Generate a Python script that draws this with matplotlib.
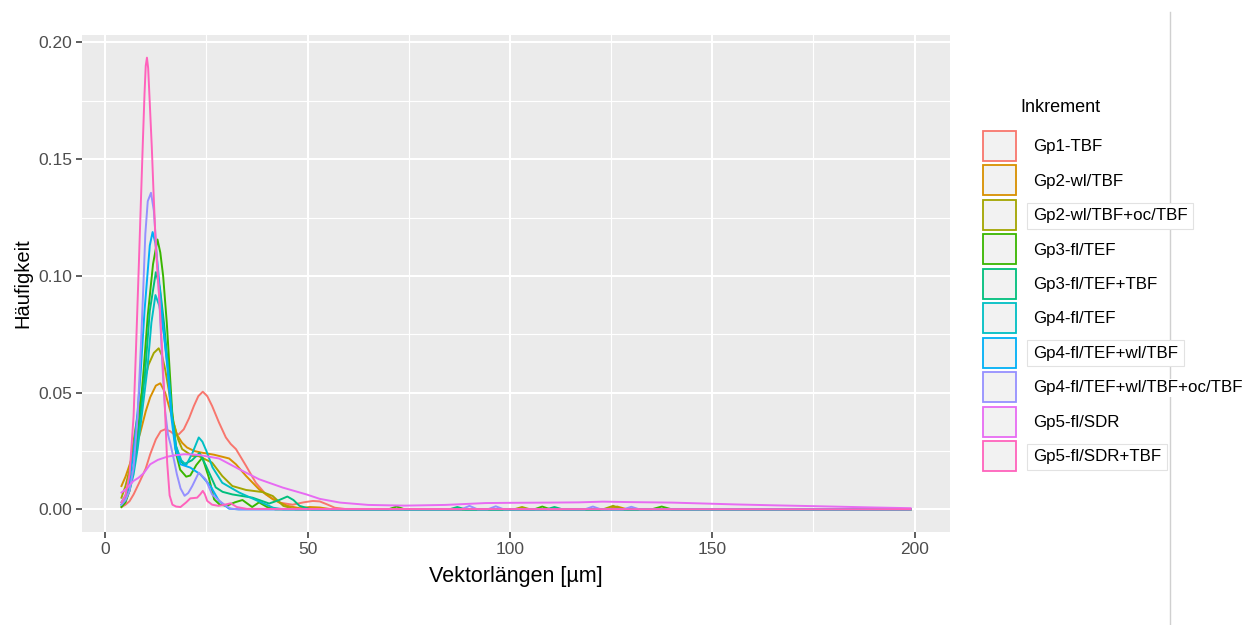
import matplotlib
matplotlib.use("Agg")
import matplotlib.pyplot as plt
from matplotlib.patches import Patch
from matplotlib.lines import Line2D
from matplotlib.ticker import FixedLocator, FormatStrFormatter

plt.rcParams["font.family"] = ["Liberation Sans", "DejaVu Sans"]

labels = [
    "Gp1-TBF", "Gp2-wl/TBF", "Gp2-wl/TBF+oc/TBF", "Gp3-fl/TEF", "Gp3-fl/TEF+TBF",
    "Gp4-fl/TEF", "Gp4-fl/TEF+wl/TBF", "Gp4-fl/TEF+wl/TBF+oc/TBF", "Gp5-fl/SDR",
    "Gp5-fl/SDR+TBF",
]
colors = ["#F8766D", "#D89000", "#A3A500", "#39B600", "#00BF7D",
          "#00BFC4", "#00B0F6", "#9590FF", "#E76BF3", "#FF62BC"]

# density curves (x in µm, y = density)
x_gp1 = [4, 5, 6, 7, 8.6, 10, 11.1, 12.5, 13.7, 14.8, 16, 17.3, 18.2, 19.4, 20.7,
         21.9, 23, 24.1, 25.2, 26.4, 28.1, 29.8, 31, 32.3, 34.8, 37.2, 39.7, 43,
         46.3, 49, 51.3, 53, 55, 56.7, 60, 199]
y_gp1 = [0.001, 0.002, 0.0035, 0.0064, 0.0122, 0.0175, 0.0236, 0.030, 0.0335, 0.0343,
         0.0335, 0.0318, 0.0322, 0.0343, 0.039, 0.0443, 0.0485, 0.0504, 0.0485, 0.0443,
         0.0372, 0.0308, 0.028, 0.0258, 0.0186, 0.0114, 0.0064, 0.0029, 0.002, 0.003,
         0.0036, 0.0034, 0.002, 0.0007, 0, 0]

x_gp2 = [4, 5, 6.5, 8.6, 10, 11.1, 12.5, 13.6, 14.8, 16.1, 17.7, 19, 20.2, 22, 23.5,
         26.9, 30.6, 32.3, 34.8, 38, 41.4, 45, 48, 50.5, 53, 56, 124, 126.5, 129, 199]
y_gp2 = [0.010, 0.014, 0.0215, 0.0325, 0.042, 0.048, 0.053, 0.054, 0.050, 0.042,
         0.032, 0.0285, 0.0265, 0.025, 0.0244, 0.0234, 0.0218, 0.0193, 0.0143, 0.0086,
         0.0043, 0.0015, 0.0005, 0.001, 0.0008, 0, 0, 0.0012, 0, 0]

x_gp2oc = [4, 5, 6, 7.4, 8.5, 9.5, 10.7, 12, 13.2, 14, 14.8, 15.8, 16.9, 18, 19,
           21.5, 23.1, 26.4, 28.9, 31.4, 34.8, 38.9, 41.4, 44, 47, 101, 103, 105,
           123, 125.5, 128, 199]
y_gp2oc = [0.005, 0.010, 0.017, 0.034, 0.045, 0.054, 0.062, 0.067, 0.069, 0.066,
           0.060, 0.050, 0.037, 0.030, 0.0258, 0.0229, 0.0228, 0.020, 0.0143, 0.010,
           0.0083, 0.0074, 0.0057, 0.0015, 0, 0, 0.001, 0, 0, 0.0015, 0, 0]

x_gp3 = [4, 5, 6, 7, 8, 9.0, 9.5, 10.5, 11.8, 12.9, 13.6, 14.3, 15.2, 15.9, 16.6,
         17.5, 18.5, 20, 21, 22.5, 24, 25.6, 26.9, 28.3, 30, 32, 33.9, 36.3, 38, 40,
         42, 70, 72, 74, 106, 108, 110, 135, 137.5, 140, 199]
y_gp3 = [0.001, 0.003, 0.008, 0.018, 0.032, 0.050, 0.060, 0.083, 0.105, 0.1156,
         0.110, 0.100, 0.080, 0.060, 0.040, 0.024, 0.017, 0.014, 0.0145, 0.019,
         0.0222, 0.0136, 0.0043, 0.002, 0.0015, 0.003, 0.004, 0.001, 0.003, 0.001,
         0, 0, 0.0012, 0, 0, 0.0012, 0, 0, 0.0012, 0, 0]

x_gp3tbf = [4, 5, 6, 7, 8, 9, 9.9, 11, 12.5, 13.5, 14.5, 15.6, 16.5, 17.5, 18.5,
            19.4, 21.4, 23.3, 24.8, 27.3, 29, 31.4, 36.4, 40.5, 43, 45, 46.5, 48,
            51, 85, 87, 89, 109, 111, 113, 199]
y_gp3tbf = [0.002, 0.004, 0.009, 0.018, 0.030, 0.045, 0.060, 0.085, 0.1016, 0.095,
            0.080, 0.060, 0.040, 0.027, 0.021, 0.0193, 0.021, 0.0242, 0.019, 0.0094,
            0.0075, 0.0064, 0.005, 0.0025, 0.004, 0.0055, 0.004, 0.0015, 0, 0,
            0.001, 0, 0, 0.001, 0, 0]

x_gp4 = [4, 5, 6, 7, 8, 9, 10.4, 11.4, 12.4, 13.4, 14.5, 15.5, 16.5, 17.5, 18.8,
         20, 21.5, 23.1, 24, 25, 26.5, 28.9, 33.1, 37.2, 41.5, 44, 199]
y_gp4 = [0.002, 0.004, 0.008, 0.015, 0.026, 0.040, 0.060, 0.080, 0.0918, 0.087,
         0.075, 0.060, 0.040, 0.027, 0.021, 0.019, 0.024, 0.0308, 0.029, 0.025,
         0.018, 0.0114, 0.0072, 0.004, 0.0007, 0, 0]

x_gp4wl = [4, 5, 6, 7, 8, 8.8, 9.7, 10.4, 11.0, 11.7, 12.4, 13.2, 14.2, 15.4, 16.3,
           17.3, 18.6, 21.0, 23.5, 26.0, 28.1, 30.6, 33, 199]
y_gp4wl = [0.003, 0.006, 0.012, 0.025, 0.042, 0.060, 0.085, 0.100, 0.113, 0.1188,
           0.114, 0.100, 0.080, 0.060, 0.040, 0.026, 0.0193, 0.0179, 0.015, 0.010,
           0.0036, 0.0003, 0, 0]

x_gp4oc = [4, 5, 6, 7, 8.0, 8.8, 9.4, 9.9, 10.5, 11.3, 12.0, 12.7, 13.4, 14.1, 14.8,
           15.5, 16.1, 17.0, 17.7, 18.6, 19.6, 20.5, 21.5, 23.1, 24.8, 26.4, 27.3,
           29.4, 31, 33, 88, 90, 92, 94.5, 96.5, 98.5, 118.5, 120.5, 122.5, 128, 130,
           132, 199]
y_gp4oc = [0.002, 0.004, 0.008, 0.018, 0.040, 0.070, 0.095, 0.118, 0.132, 0.1356,
           0.128, 0.110, 0.088, 0.062, 0.042, 0.032, 0.028, 0.021, 0.015, 0.009,
           0.0058, 0.007, 0.010, 0.0157, 0.0129, 0.0064, 0.005, 0.002, 0.0003, 0, 0,
           0.0015, 0, 0, 0.0013, 0, 0, 0.0012, 0, 0, 0.0011, 0, 0]

x_gp5 = [4, 5, 7, 8.2, 9.5, 11.1, 13, 15.2, 17, 19.4, 21.5, 23.5, 28.1, 33.1, 38,
         43.9, 49.7, 53, 58, 65, 74, 84, 94, 100, 110, 117, 123, 130, 140, 148, 156,
         166, 177, 190, 199]
y_gp5 = [0.0072, 0.0085, 0.0122, 0.0135, 0.0155, 0.0193, 0.0212, 0.0225, 0.0231,
         0.0236, 0.0235, 0.0232, 0.0218, 0.0172, 0.0129, 0.0093, 0.0064, 0.0045,
         0.0029, 0.0019, 0.0016, 0.0019, 0.0027, 0.0028, 0.0029, 0.003, 0.0033,
         0.0031, 0.0029, 0.0025, 0.0021, 0.0017, 0.0013, 0.0008, 0.0005]

x_gp5tbf = [4, 5, 6, 7, 7.6, 8.3, 8.9, 9.3, 9.7, 10.0, 10.3, 10.6, 11.0, 11.5, 11.9,
            12.5, 13.3, 14.0, 14.7, 15.3, 15.9, 16.6, 17.5, 18.6, 20.0, 21.0, 22.7,
            23.5, 24.1, 24.6, 25.2, 26.4, 28.0, 29.5, 31.0, 32.5, 35.0, 199]
y_gp5tbf = [0.003, 0.006, 0.015, 0.040, 0.069, 0.105, 0.137, 0.158, 0.178, 0.190,
            0.1935, 0.189, 0.174, 0.155, 0.137, 0.112, 0.092, 0.070, 0.045, 0.020,
            0.006, 0.002, 0.0012, 0.001, 0.003, 0.0047, 0.005, 0.0065, 0.0079,
            0.0065, 0.0036, 0.002, 0.0015, 0.002, 0.0026, 0.001, 0.0002, 0.0]

series = [
    (x_gp1, y_gp1), (x_gp2, y_gp2), (x_gp2oc, y_gp2oc), (x_gp3, y_gp3),
    (x_gp3tbf, y_gp3tbf), (x_gp4, y_gp4), (x_gp4wl, y_gp4wl), (x_gp4oc, y_gp4oc),
    (x_gp5, y_gp5), (x_gp5tbf, y_gp5tbf),
]

fig = plt.figure(figsize=(12.44, 6.25), dpi=100)
ax = fig.add_axes([82 / 1244, 1 - 532 / 625, 868 / 1244, 497 / 625])
ax.set_facecolor("#EBEBEB")

for (xs, ys), col in zip(series, colors):
    ax.plot(xs, ys, color=col, lw=1.4, solid_joinstyle="round", zorder=3)

ax.set_xlim(-5.75, 208.75)
ax.set_ylim(-0.0097, 0.2032)
ax.xaxis.set_major_locator(FixedLocator([0, 50, 100, 150, 200]))
ax.xaxis.set_minor_locator(FixedLocator([25, 75, 125, 175]))
ax.yaxis.set_major_locator(FixedLocator([0, 0.05, 0.10, 0.15, 0.20]))
ax.yaxis.set_minor_locator(FixedLocator([0.025, 0.075, 0.125, 0.175]))
ax.yaxis.set_major_formatter(FormatStrFormatter("%.2f"))
ax.grid(which="major", color="white", lw=1.5, zorder=1)
ax.grid(which="minor", color="white", lw=0.8, zorder=1)
ax.set_axisbelow(True)
for sp in ax.spines.values():
    sp.set_visible(False)
ax.tick_params(which="major", length=4, width=1.1, color="#333333",
               labelsize=12.5, labelcolor="#4D4D4D", pad=3)
ax.tick_params(which="minor", length=0)

ax.set_xlabel("Vektorlängen [µm]", fontsize=15.5, color="black", labelpad=7)
ax.set_ylabel("Häufigkeit", fontsize=14.5, color="black", labelpad=4)

# page border line seen at the right
fig.add_artist(Line2D([1170 / 1244, 1170 / 1244], [0, 1 - 12 / 625],
                      color="#D0D0D0", lw=1, zorder=0))

handles = [Patch(facecolor="#F2F2F2", edgecolor=c, lw=1.3) for c in colors]
leg = fig.legend(handles, labels, loc="upper left",
                 bbox_to_anchor=(983 / 1244, 1 - 131 / 625),
                 frameon=False, fontsize=12.2, handlelength=1.95, handleheight=2.35,
                 handletextpad=1.0, labelspacing=0.26, borderpad=0, borderaxespad=0)
leg.set_zorder(5)
for i in [2, 6, 9]:
    leg.get_texts()[i].set_bbox(dict(facecolor="white", edgecolor="#E2E2E2",
                                     lw=0.8, pad=4))
leg.get_texts()[7].set_bbox(dict(facecolor="white", edgecolor="white", lw=0, pad=1))
fig.text(1020 / 1244, 1 - 107 / 625, "Inkrement", fontsize=13, va="center")

fig.savefig("out.png", dpi=100)
